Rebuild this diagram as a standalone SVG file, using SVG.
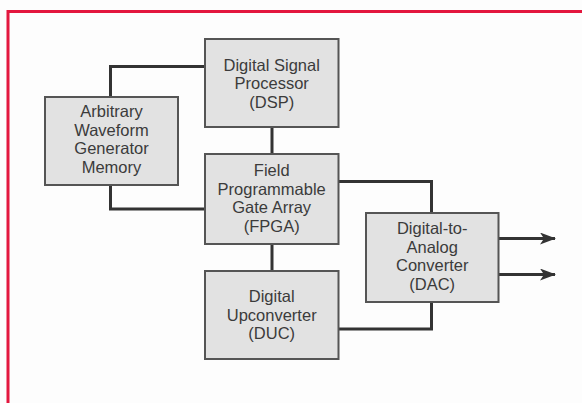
<svg xmlns="http://www.w3.org/2000/svg" width="582" height="403" viewBox="0 0 582 403">
<defs>
<style>
.box{fill:#e2e2e2;stroke:#555;stroke-width:2}
.t{font-family:"Liberation Sans",Arial,sans-serif;font-size:16.5px;fill:#3b3b3b;text-anchor:middle}
.c{fill:none;stroke:#333;stroke-width:3}
</style>
<marker id="ah" viewBox="0 0 16 12" refX="15" refY="6" markerWidth="16" markerHeight="12" markerUnits="userSpaceOnUse" orient="auto">
<path d="M0,0 L16,6 L0,12 L4,6 Z" fill="#333"/>
</marker>
</defs>
<rect x="0" y="0" width="582" height="403" fill="#fdfdfd"/>
<path d="M8,403 V11.5 H582" fill="none" stroke="#e3173e" stroke-width="3"/>
<g id="connectors">
<path class="c" d="M205,66.5 H110.5 V97"/>
<path class="c" d="M272,127 V154"/>
<path class="c" d="M110.5,185 V209 H205"/>
<path class="c" d="M338.5,181.5 H431.5 V213"/>
<path class="c" d="M272,244 V271"/>
<path class="c" d="M338.5,329 H431.5 V302"/>
<path class="c" d="M498.5,238.5 H555" marker-end="url(#ah)"/>
<path class="c" d="M498.5,274.5 H555" marker-end="url(#ah)"/>
</g>
<g id="dsp">
<rect class="box" x="205" y="39" width="133.5" height="88"/>
<text class="t" x="271.7" y="70.5">Digital Signal</text>
<text class="t" x="271.7" y="89">Processor</text>
<text class="t" x="271.7" y="107.5">(DSP)</text>
</g>
<g id="awg">
<rect class="box" x="45" y="97" width="133" height="88"/>
<text class="t" x="111.5" y="117">Arbitrary</text>
<text class="t" x="111.5" y="135.5">Waveform</text>
<text class="t" x="111.5" y="154">Generator</text>
<text class="t" x="111.5" y="172.5">Memory</text>
</g>
<g id="fpga">
<rect class="box" x="205" y="154" width="133.5" height="90"/>
<text class="t" x="271.7" y="176">Field</text>
<text class="t" x="271.7" y="194.5">Programmable</text>
<text class="t" x="271.7" y="213">Gate Array</text>
<text class="t" x="271.7" y="231.5">(FPGA)</text>
</g>
<g id="dac">
<rect class="box" x="366" y="213" width="132.5" height="89"/>
<text class="t" x="432.2" y="234">Digital-to-</text>
<text class="t" x="432.2" y="252.5">Analog</text>
<text class="t" x="432.2" y="271">Converter</text>
<text class="t" x="432.2" y="289.5">(DAC)</text>
</g>
<g id="duc">
<rect class="box" x="205" y="271" width="133.5" height="88"/>
<text class="t" x="271.7" y="302">Digital</text>
<text class="t" x="271.7" y="320.5">Upconverter</text>
<text class="t" x="271.7" y="339">(DUC)</text>
</g>
</svg>
